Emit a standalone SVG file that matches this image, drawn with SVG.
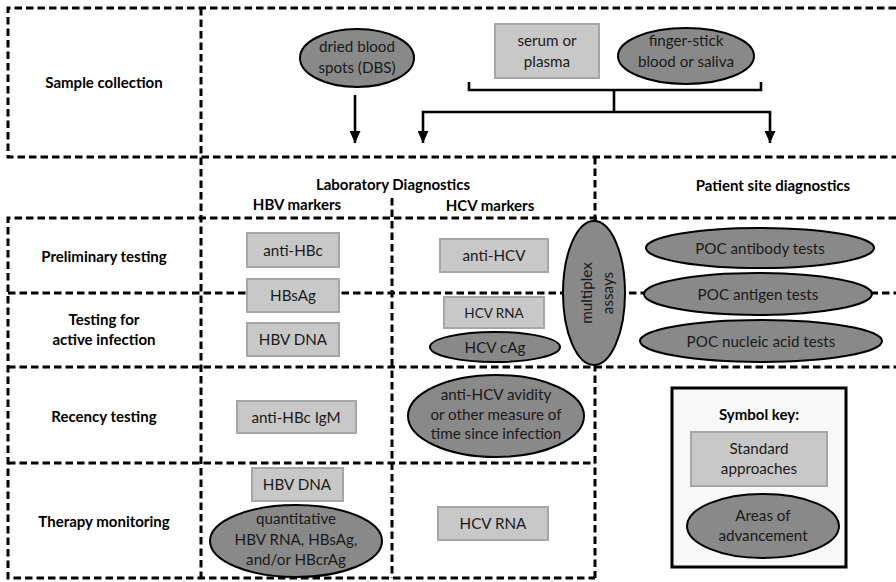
<svg xmlns="http://www.w3.org/2000/svg" width="896" height="582" viewBox="0 0 896 582">
<defs>
<marker id="arr" markerWidth="11" markerHeight="12" refX="5.5" refY="12" orient="0" markerUnits="userSpaceOnUse" viewBox="0 0 11 12">
<path d="M0,0 L11,0 L5.5,12 Z" fill="#000"/>
</marker>
</defs>
<style>
.grid{stroke:#000;stroke-width:3;stroke-dasharray:7.5 4;fill:none}
.std{fill:#c8c8c8;stroke:#a6a6a6;stroke-width:2}
.adv{fill:#898989;stroke:#000;stroke-width:2}
.t{font-family:Lato,"Liberation Sans",sans-serif;font-size:15.2px;fill:#1a1a1a;text-anchor:middle}
.sm{font-size:13.5px}
.b{font-family:Lato,"Liberation Sans",sans-serif;font-size:15px;font-weight:bold;fill:#000;text-anchor:middle}
.ln{stroke:#000;stroke-width:2.6;fill:none}
</style>
<rect width="896" height="582" fill="#fff"/>
<g id="grid">
<path class="grid" d="M896,8 H8 V157 H896"/>
<path class="grid" d="M201,8 V578"/>
<path class="grid" d="M595,157 V578"/>
<path class="grid" d="M392,198 V578"/>
<path class="grid" d="M896,218 H8 V578 H595"/>
<path class="grid" d="M8,293 H896"/>
<path class="grid" d="M8,367 H896"/>
<path class="grid" d="M8,463 H595"/>
</g>
<g id="labels">
<text class="b" x="104" y="88">Sample collection</text>
<text class="b" x="393" y="190">Laboratory Diagnostics</text>
<text class="b" x="297" y="210">HBV markers</text>
<text class="b" x="490" y="211">HCV markers</text>
<text class="b" x="773" y="191">Patient site diagnostics</text>
<text class="b" x="104" y="262">Preliminary testing</text>
<text class="b" x="104" y="325">Testing for</text>
<text class="b" x="104" y="345">active infection</text>
<text class="b" x="104" y="422">Recency testing</text>
<text class="b" x="104" y="527">Therapy monitoring</text>
</g>
<g id="connectors">
<path class="ln" d="M355,95 V143" marker-end="url(#arr)"/>
<path class="ln" d="M469,82 V90 H761 V82"/>
<path class="ln" d="M614,90 V112"/>
<path class="ln" d="M770,143 V112 H423 V143" marker-start="url(#arr)" marker-end="url(#arr)"/>
</g>
<g id="dbs"><ellipse class="adv" cx="357" cy="58" rx="57" ry="29"/><text class="t" x="357" y="52">dried blood</text><text class="t" x="357" y="73">spots (DBS)</text></g>
<g id="serum"><rect class="std" x="495" y="24" width="104" height="54"/><text class="t" x="547" y="46">serum or</text><text class="t" x="547" y="67">plasma</text></g>
<g id="finger"><ellipse class="adv" cx="686" cy="56" rx="68" ry="28"/><text class="t" x="686" y="46">finger-stick</text><text class="t" x="686" y="67">blood or saliva</text></g>
<g id="anti-hbc"><rect class="std" x="247" y="233" width="92" height="34"/><text class="t" x="293" y="256">anti-HBc</text></g>
<g id="hbsag"><rect class="std" x="247" y="279" width="92" height="33"/><text class="t" x="293" y="301">HBsAg</text></g>
<g id="hbv-dna1"><rect class="std" x="247" y="323" width="92" height="33"/><text class="t" x="293" y="345">HBV DNA</text></g>
<g id="anti-hcv"><rect class="std" x="440" y="239" width="108" height="33"/><text class="t" x="494" y="261">anti-HCV</text></g>
<g id="hcv-rna1"><rect class="std" x="444" y="297" width="100" height="31"/><text class="t sm" x="494" y="318">HCV RNA</text></g>
<g id="hcv-cag"><ellipse class="adv" cx="495" cy="347" rx="65" ry="15"/><text class="t" x="495" y="353">HCV cAg</text></g>
<g id="multiplex"><ellipse class="adv" cx="594" cy="293" rx="31" ry="72"/><text class="t" transform="translate(592,293) rotate(-90)" x="0" y="0">multiplex</text><text class="t" transform="translate(613,293) rotate(-90)" x="0" y="0">assays</text></g>
<g id="poc-ab"><ellipse class="adv" cx="760" cy="248" rx="114" ry="20"/><text class="t" x="760" y="254">POC antibody tests</text></g>
<g id="poc-ag"><ellipse class="adv" cx="758" cy="294" rx="114" ry="21"/><text class="t" x="758" y="300">POC antigen tests</text></g>
<g id="poc-na"><ellipse class="adv" cx="761" cy="341" rx="121" ry="21"/><text class="t" x="761" y="347">POC nucleic acid tests</text></g>
<g id="anti-hbc-igm"><rect class="std" x="237" y="401" width="119" height="32"/><text class="t" x="296" y="423">anti-HBc IgM</text></g>
<g id="avidity"><ellipse class="adv" cx="496" cy="416" rx="88" ry="41"/><text class="t" x="496" y="400">anti-HCV avidity</text><text class="t" x="496" y="420">or other measure of</text><text class="t" x="496" y="439">time since infection</text></g>
<g id="hbv-dna2"><rect class="std" x="252" y="468" width="91" height="33"/><text class="t" x="297" y="490">HBV DNA</text></g>
<g id="quant"><ellipse class="adv" cx="296" cy="541" rx="86" ry="36"/><text class="t" x="296" y="524">quantitative</text><text class="t" x="296" y="545">HBV RNA, HBsAg,</text><text class="t" x="296" y="565">and/or HBcrAg</text></g>
<g id="hcv-rna2"><rect class="std" x="438" y="507" width="110" height="33"/><text class="t" x="493" y="529">HCV RNA</text></g>
<g id="key"><rect x="672" y="388" width="174" height="179" fill="#f8f8f8" stroke="#000" stroke-width="3"/><text class="b" x="759" y="420">Symbol key:</text><rect class="std" x="691" y="432" width="136" height="54"/><text class="t" x="759" y="454">Standard</text><text class="t" x="759" y="474">approaches</text><ellipse class="adv" cx="763" cy="526" rx="76" ry="32"/><text class="t" x="763" y="521">Areas of</text><text class="t" x="763" y="541">advancement</text></g>
</svg>
